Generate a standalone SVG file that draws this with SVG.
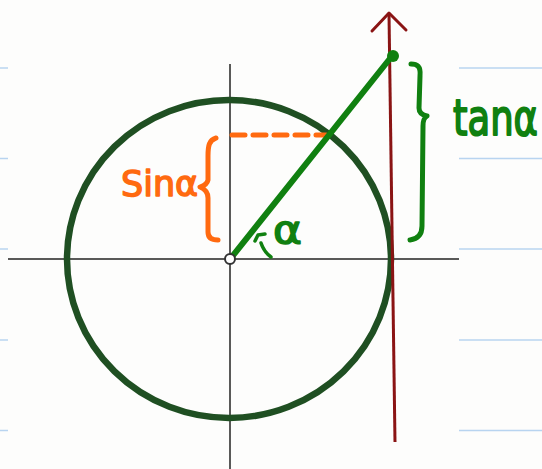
<svg xmlns="http://www.w3.org/2000/svg" width="542" height="469" viewBox="0 0 542 469">
<style>
.rule{stroke:#b8d4f0;stroke-width:1.5}
.axis{stroke:#222;stroke-width:1.5;fill:none}
.grn{stroke:#108010;fill:none;stroke-linecap:round;stroke-linejoin:round}
.org{stroke:#ff6a10;fill:none;stroke-linecap:round;stroke-linejoin:round}
.lbl{font-family:"DejaVu Sans",sans-serif;stroke-width:1.5;stroke-linejoin:round}
</style>
<rect width="542" height="469" fill="#fdfdfc"/>
<g id="rules">
<line class="rule" x1="0" y1="68" x2="8" y2="68"/>
<line class="rule" x1="0" y1="158.5" x2="8" y2="158.5"/>
<line class="rule" x1="0" y1="249" x2="8" y2="249"/>
<line class="rule" x1="0" y1="340" x2="8" y2="340"/>
<line class="rule" x1="0" y1="430.5" x2="8" y2="430.5"/>
<line class="rule" x1="459" y1="68" x2="542" y2="68"/>
<line class="rule" x1="459" y1="158.5" x2="542" y2="158.5"/>
<line class="rule" x1="459" y1="249" x2="542" y2="249"/>
<line class="rule" x1="459" y1="340" x2="542" y2="340"/>
<line class="rule" x1="459" y1="430.5" x2="542" y2="430.5"/>
</g>
<g id="axes">
<line class="axis" x1="8" y1="259" x2="459" y2="259"/>
<line class="axis" x1="230" y1="64" x2="230" y2="469"/>
</g>
<g id="circle">
<ellipse cx="229" cy="259" rx="162" ry="159" fill="none" stroke="#1f4f22" stroke-width="6.5"/>
</g>
<g id="tangent-axis">
<line x1="389" y1="14" x2="395" y2="442" stroke="#8a1414" stroke-width="3"/>
<polyline points="372,31 389,13 406,30" fill="none" stroke="#8a1414" stroke-width="3" stroke-linecap="round" stroke-linejoin="round"/>
</g>
<g id="sin">
<line class="org" x1="232" y1="135" x2="326" y2="135" stroke-width="5" stroke-dasharray="13,8" stroke-linecap="butt"/>
<path class="org" stroke-width="5" d="M216,138 C209,140 208,146 208,156 L208,180 C207,185 203,186 200,187 C205,189 208,192 208,198 L208,232 C208,238 212,240 218,240"/>
<text class="lbl" x="121" y="196" font-size="35" fill="#ff6a10" stroke="#ff6a10">Sinα</text>
</g>
<g id="radius">
<line class="grn" x1="231" y1="258" x2="392" y2="56" stroke-width="6"/>
<circle cx="393" cy="56" r="6" fill="#108010"/>
<circle cx="230" cy="259" r="5" fill="#fff" stroke="#333" stroke-width="2"/>
</g>
<g id="angle">
<path class="grn" stroke-width="3.5" d="M255,241 L258,235 L265,234 M261,243 Q264,252 271,257"/>
<text class="lbl" x="273" y="243" font-size="38" fill="#108010" stroke="#108010" textLength="29" lengthAdjust="spacingAndGlyphs">α</text>
</g>
<g id="tan">
<path class="grn" stroke-width="5" d="M411,64 C417,64 421,66 420,76 L419,108 C419,112 422,115 427,116 C424,118 423,120 423,126 L422,226 C422,234 418,239 410,240"/>
<text class="lbl" transform="translate(453,135) scale(1,1.35)" x="0" y="0" font-size="37" fill="#108010" stroke="#108010">tanα</text>
</g>
</svg>
